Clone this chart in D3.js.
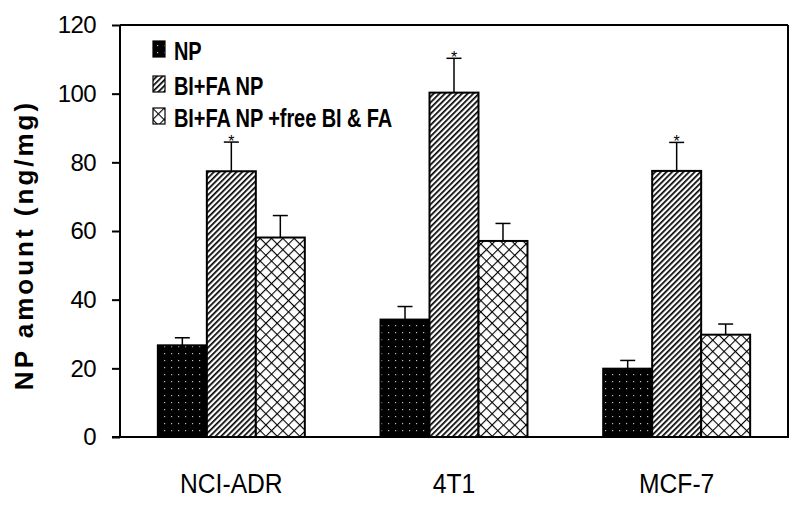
<!DOCTYPE html>
<html>
<head>
<meta charset="utf-8">
<script src="https://cdn.jsdelivr.net/npm/d3@7/dist/d3.min.js"></script>
<style>
  html, body { margin: 0; padding: 0; background: #fff; }
  svg { display: block; }
</style>
</head>
<body>
<svg id="chart" width="800" height="508"></svg>
<script>
// ---- data ----
const categories = ["NCI-ADR", "4T1", "MCF-7"];
const seriesNames = ["NP", "BI+FA NP", "BI+FA NP +free BI & FA"];
const npValues = [26.7, 34.2, 19.9];
const npErrors = [2.2, 3.8, 2.4];
const bifaValues = [77.4, 100.3, 77.5];
const bifaErrors = [8.5, 10.0, 8.3];
const freeValues = [58.1, 57.1, 29.8];
const freeErrors = [6.4, 5.1, 3.1];
const significant = [[false, true, false], [false, true, false], [false, true, false]]; // per category, per series
const yTicks = [0, 20, 40, 60, 80, 100, 120];
const yLabel = "NP amount (ng/mg)";

const seriesValues = [npValues, bifaValues, freeValues];
const seriesErrors = [npErrors, bifaErrors, freeErrors];

const svg = d3.select("#chart");
const mLeft = 120, mRight = 788, mTop = 25, mBottom = 437;

const x0 = d3.scaleBand().domain(categories).range([mLeft, mRight]).paddingInner(0.34).paddingOuter(0.17);
const x1 = d3.scaleBand().domain(seriesNames).range([0, x0.bandwidth()]).padding(0);
const y = d3.scaleLinear().domain([0, 120]).range([mBottom, mTop]);

// ---- patterns ----
const defs = svg.append("defs");
const pDots = defs.append("pattern").attr("id", "pDots").attr("patternUnits", "userSpaceOnUse")
  .attr("width", 7).attr("height", 7);
pDots.append("rect").attr("width", 7).attr("height", 7).attr("fill", "#000");
pDots.append("rect").attr("x", 3).attr("y", 3).attr("width", 1.2).attr("height", 1.2).attr("fill", "#bbb");
const pHatch = defs.append("pattern").attr("id", "pHatch").attr("patternUnits", "userSpaceOnUse")
  .attr("width", 4).attr("height", 4).attr("patternTransform", "rotate(45)");
pHatch.append("rect").attr("width", 4).attr("height", 4).attr("fill", "#fff");
pHatch.append("rect").attr("x", 0).attr("y", 0).attr("width", 1.7).attr("height", 4).attr("fill", "#000");
const pCross = defs.append("pattern").attr("id", "pCross").attr("patternUnits", "userSpaceOnUse")
  .attr("width", 8).attr("height", 8).attr("patternTransform", "rotate(45)");
pCross.append("rect").attr("width", 8).attr("height", 8).attr("fill", "#fff");
pCross.append("rect").attr("x", 0).attr("y", 0).attr("width", 1.1).attr("height", 8).attr("fill", "#000");
pCross.append("rect").attr("x", 0).attr("y", 0).attr("width", 8).attr("height", 1.1).attr("fill", "#000");

const fills = ["url(#pDots)", "url(#pHatch)", "url(#pCross)"];

// ---- frame ----
svg.append("line").attr("x1", mLeft).attr("x2", mRight).attr("y1", mTop).attr("y2", mTop)
  .attr("stroke", "#000").attr("stroke-width", 2);
svg.append("line").attr("x1", mRight).attr("x2", mRight).attr("y1", mTop).attr("y2", mBottom)
  .attr("stroke", "#000").attr("stroke-width", 2);

// ---- bars ----
const data = [];
categories.forEach((c, ci) => {
  seriesNames.forEach((s, si) => {
    data.push({ c, s, si, v: seriesValues[si][ci], e: seriesErrors[si][ci], sig: significant[ci][si] });
  });
});

const g = svg.append("g");
g.selectAll("rect.bar").data(data).enter().append("rect")
  .attr("class", "bar")
  .attr("x", d => x0(d.c) + x1(d.s))
  .attr("y", d => y(d.v))
  .attr("width", x1.bandwidth())
  .attr("height", d => y(0) - y(d.v))
  .attr("fill", d => fills[d.si])
  .attr("stroke", "#000").attr("stroke-width", 2);

const capW = 15;
const cx = d => x0(d.c) + x1(d.s) + x1.bandwidth() / 2;
g.selectAll("line.err").data(data).enter().append("line")
  .attr("x1", cx).attr("x2", cx)
  .attr("y1", d => y(d.v)).attr("y2", d => y(d.v + d.e))
  .attr("stroke", "#000").attr("stroke-width", 1.5);
g.selectAll("line.cap").data(data).enter().append("line")
  .attr("x1", d => cx(d) - capW / 2)
  .attr("x2", d => cx(d) + capW / 2)
  .attr("y1", d => y(d.v + d.e)).attr("y2", d => y(d.v + d.e))
  .attr("stroke", "#000").attr("stroke-width", 1.5);
g.selectAll("text.sig").data(data.filter(d => d.sig)).enter().append("text")
  .attr("x", cx)
  .attr("y", d => y(d.v + d.e) + 5)
  .attr("text-anchor", "middle")
  .attr("font-family", "Liberation Sans, Arial, sans-serif")
  .attr("font-size", 16)
  .text("*");

// ---- axes ----
const yAxis = d3.axisLeft(y).tickValues(yTicks).tickSize(8).tickPadding(16).tickFormat(d3.format("d"));
const ya = svg.append("g").attr("transform", `translate(${mLeft},0)`).call(yAxis);
ya.select(".domain").attr("stroke-width", 2).attr("d", `M0,${mTop}V${mBottom}`);
ya.selectAll(".tick line").attr("stroke-width", 2);
ya.selectAll(".tick text").attr("font-family", "Liberation Sans, Arial, sans-serif")
  .attr("font-size", 24).attr("letter-spacing", -0.6).attr("fill", "#000");

const xAxis = d3.axisBottom(x0).tickSize(0).tickPadding(0);
const xa = svg.append("g").attr("transform", `translate(0,${mBottom})`).call(xAxis);
xa.select(".domain").attr("stroke-width", 2).attr("d", `M${mLeft - 8},0H${mRight + 1}`);
xa.selectAll(".tick text").attr("font-family", "Liberation Sans, Arial, sans-serif")
  .attr("font-size", 28).attr("fill", "#000")
  .attr("dy", 0).attr("y", 56)
  .attr("transform", "scale(0.88,1)");

svg.append("text")
  .attr("transform", "translate(33,245) rotate(-90)")
  .attr("text-anchor", "middle")
  .attr("font-family", "Liberation Sans, Arial, sans-serif")
  .attr("font-weight", "bold")
  .attr("font-size", 26)
  .attr("letter-spacing", 3)
  .text(yLabel);

// ---- legend ----
const legend = svg.append("g");
const legBase = [60, 95, 127];
seriesNames.forEach((s, i) => {
  legend.append("rect").attr("x", 153).attr("y", legBase[i] - 19).attr("width", 12).attr("height", 16)
    .attr("fill", fills[i]).attr("stroke", "#000").attr("stroke-width", 1.2);
  legend.append("text")
    .attr("transform", `translate(174,${legBase[i]}) scale(0.8,1)`)
    .attr("font-family", "Liberation Sans, Arial, sans-serif")
    .attr("font-weight", "bold").attr("font-size", 25)
    .attr("letter-spacing", -0.1)
    .text(s);
});
</script>
</body>
</html>
